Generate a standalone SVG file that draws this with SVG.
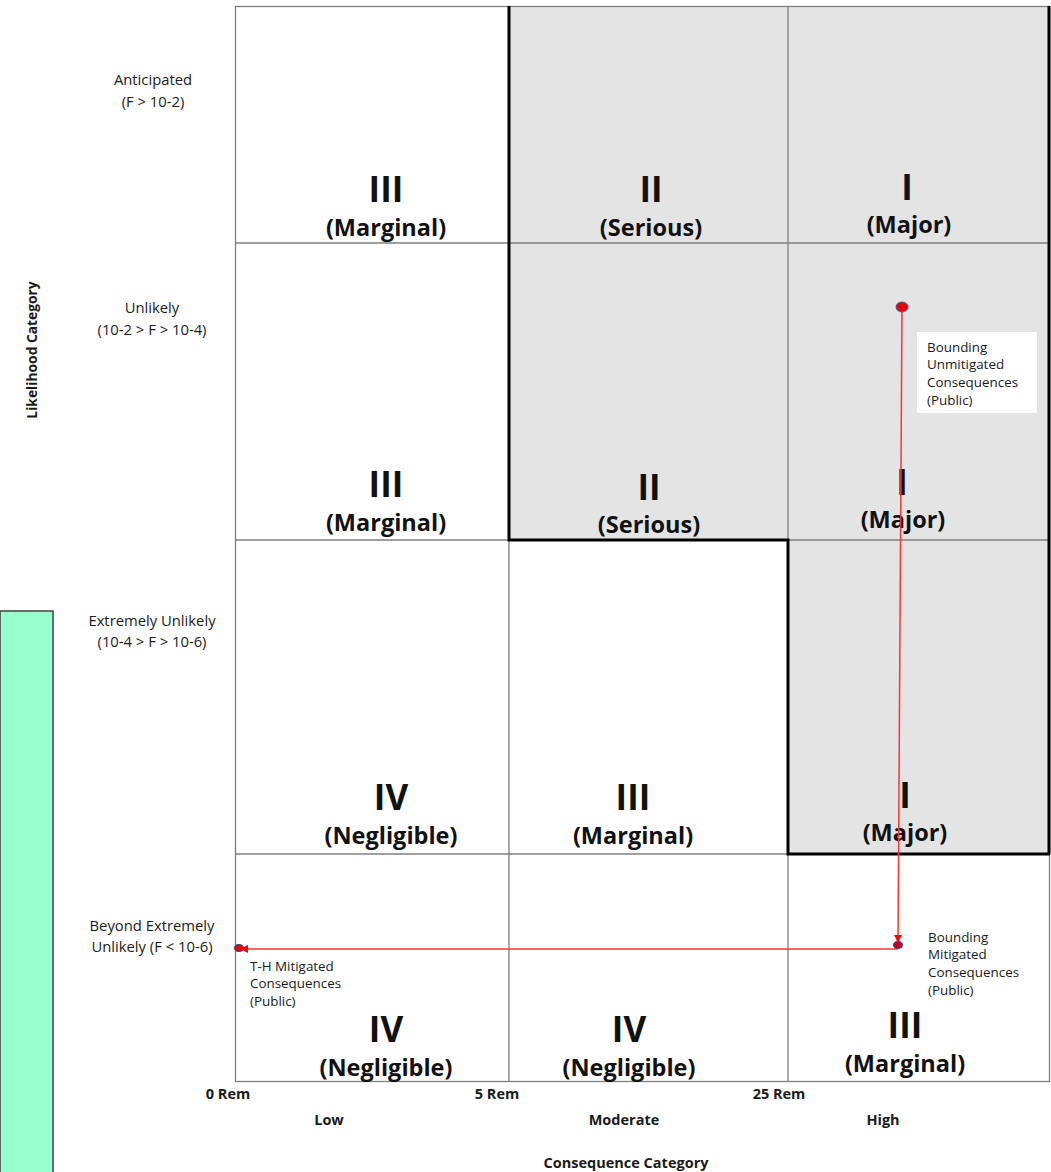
<svg xmlns="http://www.w3.org/2000/svg" width="1051" height="1172" viewBox="0 0 1051 1172">
<style>
.lbl{font-family:"Open Sans","Liberation Sans",sans-serif;font-size:14.8px;fill:#1a1a1a;text-anchor:middle}
.ax{font-family:"Open Sans","Liberation Sans",sans-serif;font-size:14.5px;font-weight:bold;fill:#1a1a1a;text-anchor:middle}
.note{font-family:"Open Sans","Liberation Sans",sans-serif;font-size:13.4px;fill:#1a1a1a}
.num{font-family:"Open Sans","Liberation Sans",sans-serif;font-size:35px;font-weight:bold;fill:#111;text-anchor:middle}
.cat{font-family:"Open Sans","Liberation Sans",sans-serif;font-size:23.5px;font-weight:bold;fill:#111;text-anchor:middle}
.grid{stroke:#7f7f7f;stroke-width:1.3;fill:none}
.thick{stroke:#000;stroke-width:3;fill:none}
.red{stroke:#ff3333;stroke-width:1.5;fill:none}
</style>
<defs>
<marker id="ah" markerWidth="8" markerHeight="8" refX="7" refY="4" orient="auto" markerUnits="userSpaceOnUse">
<path d="M0,0 L8,4 L0,8 z" fill="#ff0000"/>
</marker>
</defs>
<rect width="1051" height="1172" fill="#fff"/>
<rect x="0" y="611" width="53" height="562" fill="#99ffcc" stroke="#404040" stroke-width="1.5"/>
<g id="shading">
<rect x="509" y="6" width="541" height="534" fill="#e4e4e4"/>
<rect x="788" y="540" width="262" height="314" fill="#e4e4e4"/>
</g>
<g id="grid">
<rect class="grid" x="235.5" y="6.5" width="814" height="1075"/>
<line class="grid" x1="509" y1="6" x2="509" y2="1082"/>
<line class="grid" x1="788" y1="6" x2="788" y2="1082"/>
<line class="grid" x1="235" y1="243" x2="1050" y2="243"/>
<line class="grid" x1="235" y1="540" x2="1050" y2="540"/>
<line class="grid" x1="235" y1="854" x2="1050" y2="854"/>
<polyline class="thick" points="509,6 509,540 788,540 788,854 1050,854"/>
<line class="thick" x1="1049" y1="6" x2="1049" y2="854"/>
</g>
<g id="row-labels">
<text class="lbl" x="153" y="85">Anticipated</text>
<text class="lbl" x="153" y="107">(F &gt; 10-2)</text>
<text class="lbl" x="152" y="313">Unlikely</text>
<text class="lbl" x="152" y="335">(10-2 &gt; F &gt; 10-4)</text>
<text class="lbl" x="152" y="626">Extremely Unlikely</text>
<text class="lbl" x="152" y="647">(10-4 &gt; F &gt; 10-6)</text>
<text class="lbl" x="152" y="931">Beyond Extremely</text>
<text class="lbl" x="152" y="952">Unlikely (F &lt; 10-6)</text>
<text class="ax" style="font-size:13.8px" transform="translate(37,350) rotate(-90)">Likelihood Category</text>
</g>
<g id="col-labels">
<text class="ax" x="228" y="1099">0 Rem</text>
<text class="ax" x="497" y="1099">5 Rem</text>
<text class="ax" x="779" y="1099">25 Rem</text>
<text class="ax" x="329" y="1125">Low</text>
<text class="ax" x="624" y="1125">Moderate</text>
<text class="ax" x="883" y="1125">High</text>
<text class="ax" x="626" y="1168">Consequence Category</text>
</g>
<g id="cell-r1c1"><text class="num" x="386" y="202">III</text><text class="cat" x="386" y="236">(Marginal)</text></g>
<g id="cell-r1c2"><text class="num" x="651" y="202">II</text><text class="cat" x="651" y="236">(Serious)</text></g>
<g id="cell-r1c3"><text class="num" x="907" y="200">I</text><text class="cat" x="909" y="233">(Major)</text></g>
<g id="cell-r2c1"><text class="num" x="386" y="497">III</text><text class="cat" x="386" y="531">(Marginal)</text></g>
<g id="cell-r2c2"><text class="num" x="649" y="500">II</text><text class="cat" x="649" y="533">(Serious)</text></g>
<g id="cell-r2c3"><text class="num" x="902" y="495">I</text><text class="cat" x="903" y="528">(Major)</text></g>
<g id="cell-r3c1"><text class="num" x="391" y="810">IV</text><text class="cat" x="391" y="844">(Negligible)</text></g>
<g id="cell-r3c2"><text class="num" x="633" y="810">III</text><text class="cat" x="633" y="844">(Marginal)</text></g>
<g id="cell-r3c3"><text class="num" x="905" y="808">I</text><text class="cat" x="905" y="841">(Major)</text></g>
<g id="cell-r4c1"><text class="num" x="386" y="1042">IV</text><text class="cat" x="386" y="1076">(Negligible)</text></g>
<g id="cell-r4c2"><text class="num" x="629" y="1042">IV</text><text class="cat" x="629" y="1076">(Negligible)</text></g>
<g id="cell-r4c3"><text class="num" x="905" y="1038">III</text><text class="cat" x="905" y="1072">(Marginal)</text></g>
<g id="connectors">
<line class="red" x1="902" y1="307" x2="898" y2="942" marker-end="url(#ah)"/>
<line class="red" x1="898" y1="949" x2="241" y2="949" marker-end="url(#ah)"/>
</g>
<g id="point-unmitigated">
<ellipse cx="902" cy="307" rx="6" ry="5" fill="#ee0000" stroke="#4a5a9a" stroke-width="1"/>
<rect x="917" y="332" width="120" height="81" fill="#fff"/>
<text class="note" x="927" y="352">Bounding</text>
<text class="note" x="927" y="369">Unmitigated</text>
<text class="note" x="927" y="387">Consequences</text>
<text class="note" x="927" y="405">(Public)</text>
</g>
<g id="point-mitigated">
<ellipse cx="898" cy="945" rx="4.5" ry="3.5" fill="#c00020" stroke="#3a4a90" stroke-width="1"/>
<text class="note" x="928" y="942">Bounding</text>
<text class="note" x="928" y="959">Mitigated</text>
<text class="note" x="928" y="977">Consequences</text>
<text class="note" x="928" y="995">(Public)</text>
</g>
<g id="point-th">
<ellipse cx="239" cy="948" rx="4.5" ry="3.5" fill="#ee0000" stroke="#3a4a90" stroke-width="1"/>
<text class="note" x="250" y="971">T-H Mitigated</text>
<text class="note" x="250" y="988">Consequences</text>
<text class="note" x="250" y="1006">(Public)</text>
</g>
</svg>
